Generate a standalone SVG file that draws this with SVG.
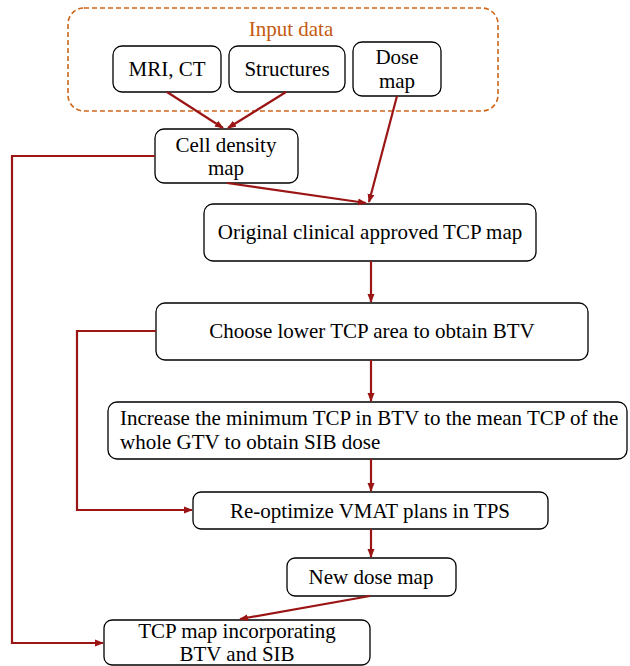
<svg xmlns="http://www.w3.org/2000/svg" width="630" height="666" viewBox="0 0 630 666">
<defs>
<marker id="ah" markerWidth="9" markerHeight="8" refX="8" refY="4" orient="auto" markerUnits="userSpaceOnUse">
<path d="M0,0.5 L9,4 L0,7.5 Z" fill="#9b1515"/>
</marker>
<style>
.box{fill:#fff;stroke:#000;stroke-width:1.3}
.t{font-family:"Liberation Serif","Times New Roman",serif;font-size:21px;fill:#000}
.c{text-anchor:middle}
.e{fill:none;stroke:#9b1515;stroke-width:2.2;marker-end:url(#ah)}
</style>
</defs>
<rect width="630" height="666" fill="#fff"/>
<g id="input">
<rect x="68" y="8" width="430" height="103" rx="16" fill="none" stroke="#d0661a" stroke-width="1.6" stroke-dasharray="5,3"/>
<text x="291" y="36" class="t c" style="fill:#c55a11">Input data</text>
</g>
<g id="mri"><rect class="box" x="113" y="46" width="108" height="46" rx="9"/><text class="t c" x="167" y="76">MRI, CT</text></g>
<g id="structures"><rect class="box" x="229" y="46" width="116" height="46" rx="9"/><text class="t c" x="287" y="76">Structures</text></g>
<g id="dosemap"><rect class="box" x="353" y="42" width="88" height="54" rx="9"/><text class="t c" x="397" y="64">Dose</text><text class="t c" x="397" y="88">map</text></g>
<g id="celldensity"><rect class="box" x="155" y="129" width="143" height="54" rx="9"/><text class="t c" x="226" y="152">Cell density</text><text class="t c" x="226" y="175">map</text></g>
<g id="original"><rect class="box" x="204" y="204" width="332" height="57" rx="9"/><text class="t c" x="370" y="239">Original clinical approved TCP map</text></g>
<g id="choose"><rect class="box" x="156" y="303" width="432" height="57" rx="9"/><text class="t c" x="372" y="338">Choose lower TCP area to obtain BTV</text></g>
<g id="increase"><rect class="box" x="108" y="402" width="519" height="57" rx="9"/><text class="t" x="120" y="425">Increase the minimum TCP in BTV to the mean TCP of the</text><text class="t" x="120" y="449">whole GTV to obtain SIB dose</text></g>
<g id="reopt"><rect class="box" x="193" y="492" width="355" height="37" rx="8"/><text class="t c" x="370" y="518">Re-optimize VMAT plans in TPS</text></g>
<g id="newdose"><rect class="box" x="287" y="558" width="169" height="38" rx="8"/><text class="t c" x="371" y="584">New dose map</text></g>
<g id="tcpfinal"><rect class="box" x="104" y="620" width="266" height="45" rx="8"/><text class="t c" x="237" y="638">TCP map incorporating</text><text class="t c" x="237" y="661">BTV and SIB</text></g>
<g id="connectors">
<line class="e" x1="167" y1="92" x2="223" y2="128"/>
<line class="e" x1="286" y1="92" x2="228" y2="128"/>
<line class="e" x1="397" y1="96" x2="369" y2="202"/>
<line class="e" x1="227" y1="183" x2="366" y2="203"/>
<polyline class="e" points="155,156 12,156 12,643 103,643"/>
<line class="e" x1="371" y1="261" x2="371" y2="302"/>
<polyline class="e" points="156,331 77,331 77,510 192,510"/>
<line class="e" x1="371" y1="360" x2="371" y2="401"/>
<line class="e" x1="371" y1="459" x2="371" y2="491"/>
<line class="e" x1="371" y1="529" x2="371" y2="557"/>
<line class="e" x1="370" y1="596" x2="240" y2="619"/>
</g>
</svg>
